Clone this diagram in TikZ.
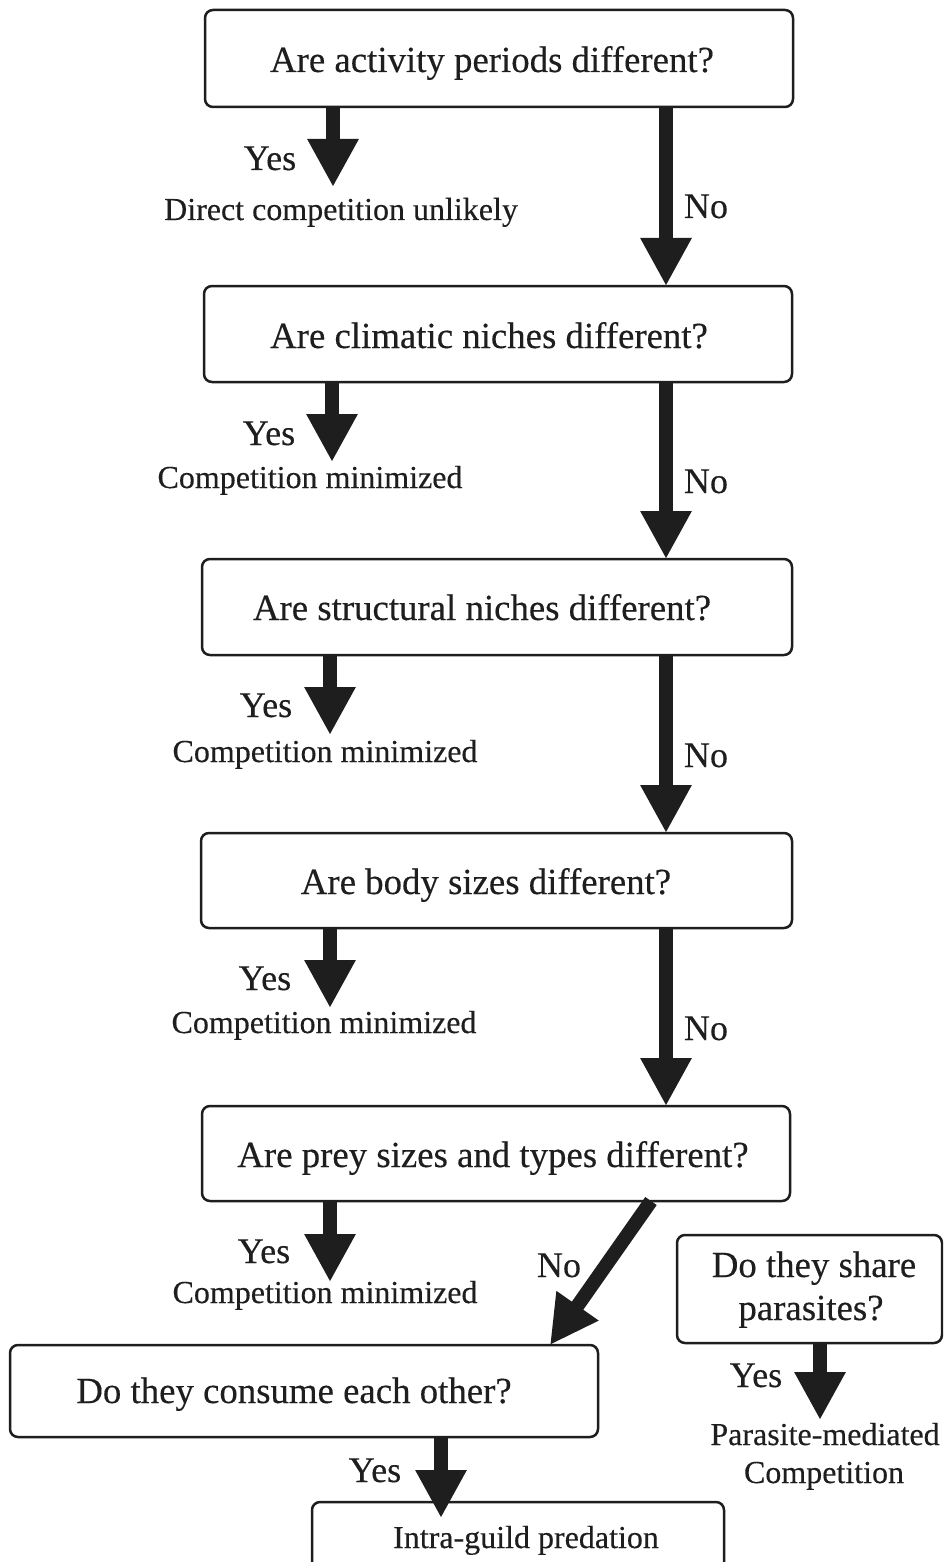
\documentclass[tikz,border=0pt]{standalone}
\usepackage{fontspec}
\setmainfont{Liberation Serif}
\newfontface\heavy{Liberation Serif}[FakeBold=0.3]
\usetikzlibrary{arrows.meta,fit}
\definecolor{ink}{HTML}{1E1E1E}
\begin{document}
\begin{tikzpicture}[x=0.5pt,y=-0.5pt,
  box/.style={draw=ink, line width=1.25pt, rounded corners=4pt, inner sep=0pt, outer sep=0pt},
  qtext/.style={font=\heavy\fontsize{18.4}{22}\selectfont, text=ink, inner sep=0pt, anchor=base},
  ytext/.style={font=\heavy\fontsize{18}{21}\selectfont, text=ink, inner sep=0pt, anchor=base},
  rtext/.style={font=\heavy\fontsize{16}{19}\selectfont, text=ink, inner sep=0pt, anchor=base},
  bigarrow/.style={draw=ink, line width=7pt, -{Triangle[width=24pt,length=24pt]}},
]
\clip (0,0) rectangle (943,1562);
\fill[white] (0,0) rectangle (943,1562);

% boxes
\node[box, fit={(205,10) (793,107)}] (b1) {};
\node[box, fit={(204,286) (792,382)}] (b2) {};
\node[box, fit={(202,559) (792,655)}] (b3) {};
\node[box, fit={(201,833) (792,928)}] (b4) {};
\node[box, fit={(202,1106) (790,1201)}] (b5) {};
\node[box, fit={(10,1345) (598,1437)}] (b6) {};
\node[box, fit={(312,1502) (724,1620)}] (b7) {};
\node[box, fit={(677,1235) (942,1343)}] (b8) {};

% box texts
\node[qtext] (t1) at (492,72) {Are activity periods different?};
\node[qtext] (t2) at (489,348) {Are climatic niches different?};
\node[qtext] (t3) at (482,620) {Are structural niches different?};
\node[qtext] (t4) at (486,894) {Are body sizes different?};
\node[qtext] (t5) at (493,1167) {Are prey sizes and types different?};
\node[qtext] (t6) at (294,1403) {Do they consume each other?};
\node[rtext] (t7) at (526,1548) {Intra-guild predation};
\node[qtext] (t8a) at (814,1277) {Do they share};
\node[qtext] (t8b) at (811,1320) {parasites?};

% outcome texts
\node[rtext] (r1) at (341,220) {Direct competition unlikely};
\node[rtext] (r2) at (310,488) {Competition minimized};
\node[rtext] (r3) at (325,762) {Competition minimized};
\node[rtext] (r4) at (324,1033) {Competition minimized};
\node[rtext] (r5) at (325,1303) {Competition minimized};
\node[rtext] (r8a) at (825,1445) {Parasite-mediated};
\node[rtext] (r8b) at (824,1483) {Competition};

% Yes / No labels
\node[ytext] (y1l) at (270,170) {Yes};
\node[ytext] (y2l) at (269,445) {Yes};
\node[ytext] (y3l) at (266,717) {Yes};
\node[ytext] (y4l) at (265,990) {Yes};
\node[ytext] (y5l) at (264,1263) {Yes};
\node[ytext] (y6l) at (375,1482) {Yes};
\node[ytext] (y8l) at (756,1387) {Yes};
\node[ytext] (n1l) at (706,218) {No};
\node[ytext] (n2l) at (706,493) {No};
\node[ytext] (n3l) at (706,767) {No};
\node[ytext] (n4l) at (706,1040) {No};
\node[ytext] (n5l) at (559,1277) {No};

% arrow end points
\coordinate (y1e) at (333,187);
\coordinate (y2e) at (332,462);
\coordinate (y3e) at (330,735);
\coordinate (y4e) at (330,1008);
\coordinate (y5e) at (330,1282);
\coordinate (y6e) at (441,1518);
\coordinate (y8e) at (820,1420);
\coordinate (nx) at (666,0);
\coordinate (n5s) at (651,0);
\coordinate (n5e) at (550,0);

% Yes arrows
\draw[bigarrow] (b1.south -| y1e) -- (y1e);
\draw[bigarrow] (b2.south -| y2e) -- (y2e);
\draw[bigarrow] (b3.south -| y3e) -- (y3e);
\draw[bigarrow] (b4.south -| y4e) -- (y4e);
\draw[bigarrow] (b5.south -| y5e) -- (y5e);
\draw[bigarrow] (b6.south -| y6e) -- (y6e);
\draw[bigarrow] (b8.south -| y8e) -- (y8e);

% No arrows
\draw[bigarrow] (b1.south -| nx) -- (b2.north -| nx);
\draw[bigarrow] (b2.south -| nx) -- (b3.north -| nx);
\draw[bigarrow] (b3.south -| nx) -- (b4.north -| nx);
\draw[bigarrow] (b4.south -| nx) -- (b5.north -| nx);
\draw[bigarrow] (b5.south -| n5s) -- (b6.north -| n5e);
\end{tikzpicture}
\end{document}
